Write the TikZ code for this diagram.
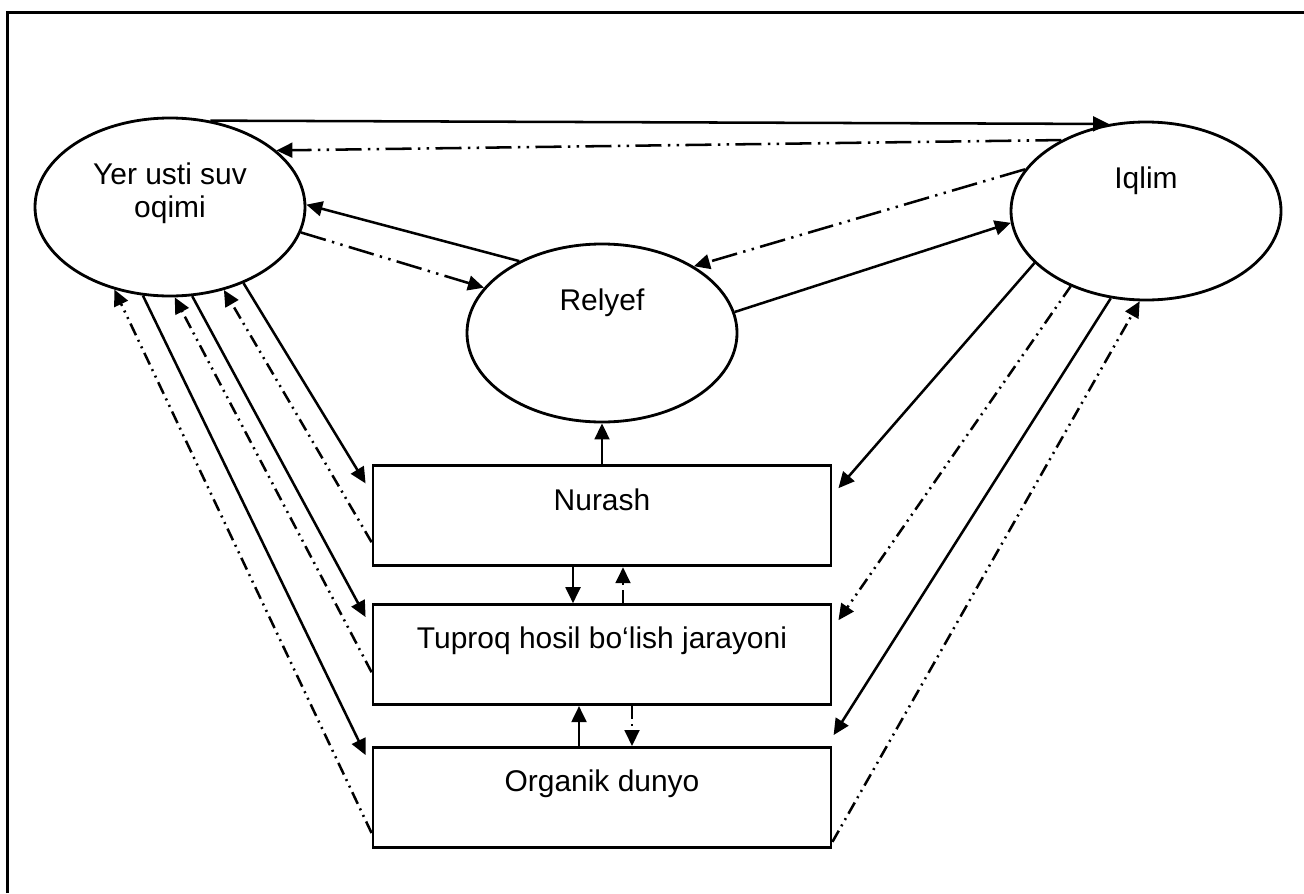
\documentclass[tikz,border=0pt]{standalone}
\usepackage{fontspec}
\setmainfont{Liberation Sans}
\usepackage{tikz}
\usetikzlibrary{shapes.geometric, arrows.meta, positioning}

\newcommand{\diagfont}{\fontsize{21.3}{23.5}\selectfont}

\begin{document}
\begin{tikzpicture}[
  x=0.25mm, y=-0.25mm,
  node distance = 10.25mm,
  oval/.style = {ellipse, draw, line width=2pt, align=center, inner sep=0pt,
                 minimum width=67.5mm, minimum height=44.5mm, font=\diagfont},
  box/.style = {rectangle, draw, line width=2pt, align=center, inner sep=0pt,
                minimum width=114.5mm, minimum height=25mm, font=\diagfont},
  arr/.style = {-{Triangle[length=4mm, width=3.7mm]}, line width=1.8pt},
  darr/.style = {arr, dash pattern=on 3.2mm off 1.3mm on 0.5mm off 1.3mm on 0.5mm off 1.3mm},
  ldarr/.style = {arr, dash pattern=on 6.5mm off 1.6mm on 0.6mm off 1.6mm on 0.6mm off 1.6mm}
]
  \useasboundingbox (0,0) rectangle (1304,893);
  \draw[line width=2.4pt] (7.5,893) |- (1304,12.5);

  \node[oval] (yer)    at (170,207)  {Yer usti suv\\oqimi\\~};
  \node[oval] (iqlim)  at (1146,211) {Iqlim\\~\\~};
  \node[oval] (relyef) at (602,333)  {Relyef\\~\\~};

  \node[box, below=of relyef]      (nurash)  {Nurash\\~};
  \node[box, below=9mm of nurash]  (tuproq)  {Tuproq hosil bo‘lish jarayoni\\~};
  \node[box, below=10mm of tuproq] (organik) {Organik dunyo\\~};

  % top triangle
  \draw[arr]   (yer.65)     -- (iqlim.113);
  \draw[ldarr] (iqlim.140)  -- (yer.28);
  \draw[arr]   (relyef.139) -- (yer.1);
  \draw[ldarr] (yer.-11)    -- (relyef.159);
  \draw[ldarr] (iqlim.161)  -- (relyef.36);
  \draw[arr]   (relyef.9)   -- (iqlim.185);

  % between the boxes
  \draw[arr]  (nurash.north) -- (relyef.south);
  \draw[arr]  ([xshift=-7.25mm]nurash.south) -- ([xshift=-7.25mm]tuproq.north);
  \draw[darr] ([xshift=5.25mm]tuproq.north)  -- ([xshift=5.25mm]nurash.south);
  \draw[arr]  ([xshift=-5.75mm]organik.north) -- ([xshift=-5.75mm]tuproq.south);
  \draw[darr] ([xshift=7.5mm]tuproq.south)   -- ([xshift=7.5mm]organik.north);

  % left side
  \draw[darr] ([yshift=-6.6mm]nurash.west) -- (yer.-57);
  \draw[arr]  (yer.-46)  -- ([yshift=8.1mm, xshift=-1.5mm]nurash.west);
  \draw[arr]  (yer.-76)  -- ([yshift=9.4mm, xshift=-1.5mm]tuproq.west);
  \draw[darr] ([yshift=-4.4mm]tuproq.west) -- (yer.-87);
  \draw[arr]  (yer.-107) -- ([yshift=10.6mm, xshift=-1.5mm]organik.west);
  \draw[darr] ([yshift=-8.9mm]organik.west) -- (yer.-124);

  % right side
  \draw[arr]  (iqlim.-155) -- ([yshift=6.9mm, xshift=1.5mm]nurash.east);
  \draw[darr] (iqlim.-135) -- ([yshift=8.6mm, xshift=1.5mm]tuproq.east);
  \draw[arr]  (iqlim.-112) -- ([yshift=15.6mm, xshift=0.3mm]organik.east);
  \draw[darr] ([yshift=-11.1mm]organik.east) -- (iqlim.-94);
\end{tikzpicture}
\end{document}
